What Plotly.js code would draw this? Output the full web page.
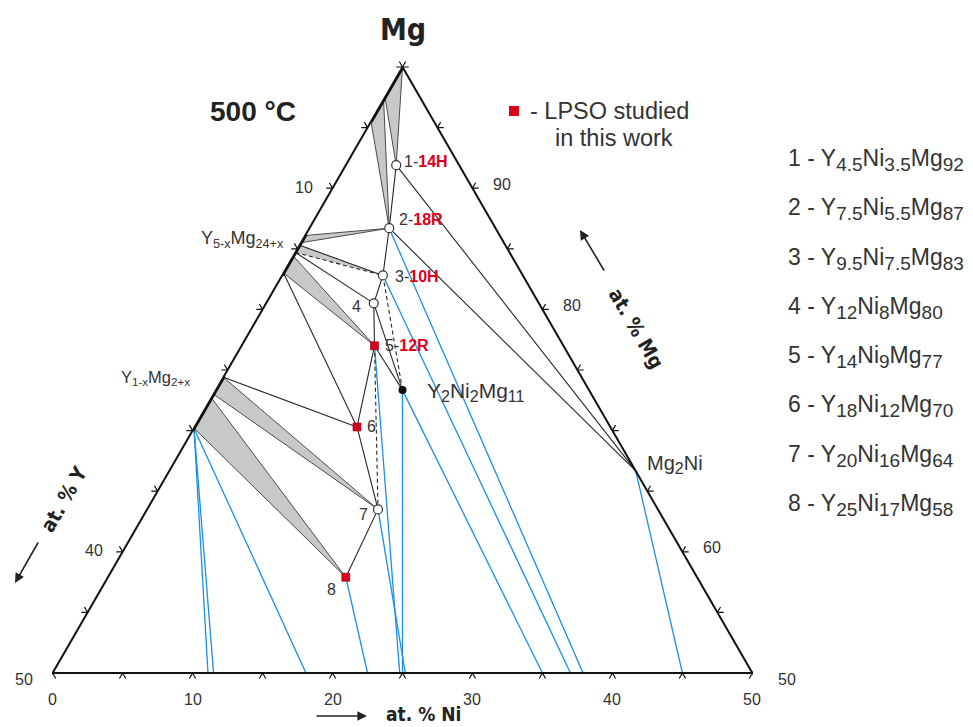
<!DOCTYPE html>
<html><head><meta charset="utf-8">
<script src="https://cdn.plot.ly/plotly-3.0.1.min.js"></script>
<style>html,body{margin:0;padding:0;background:#fff}</style>
</head><body><div id="chart" style="width:973px;height:727px"></div>
<script>
// ---------------- DATA (at.%) ----------------
// ternary Y–Ni–Mg phases 1..8 : nominal compositions (legend) and plotted positions
const phaseIds    = ['1','2','3','4','5','6','7','8'];
const nominalY    = ['4.5','7.5','9.5','12','14','18','20','25'];
const nominalNi   = ['3.5','5.5','7.5','8','9','12','16','17'];
const nominalMg   = ['92','87','83','80','77','70','64','58'];
const polytype    = ['14H','18R','10H','','12R','','',''];
const lpsoStudied = [false,false,false,false,true,true,false,true];
const posY  = [4.5, 7.6, 10.0, 11.8, 13.5, 18.1, 20.0, 25.1];
const posNi = [3.6, 5.7, 7.2, 7.7, 9.5, 11.6, 16.5, 17.0];
const posMg = [91.9, 86.7, 82.8, 80.5, 77.0, 70.3, 63.5, 57.9];

// compounds
const compoundIds = ['Y2Ni2Mg11','Mg2Ni'];
const compoundY   = [13.33, 0];
const compoundNi  = [13.33, 33.33];
const compoundMg  = [73.34, 66.67];

// Y–Mg binary phases: homogeneity range on the Y–Mg edge (Mg %)
const edgePhaseNames = ['(Mg)','Y5-xMg24+x','Y1-xMg2+x'];
const edgePhaseFrom  = [100, 86.2, 74.5];
const edgePhaseTo    = [95.5, 82.8, 70.0];

// three-phase triangles: two corners on the Y–Mg edge (Mg %) + third phase
const triMgA     = [100, 97.3, 86.1, 85.3, 84.4, 74.4, 72.7];
const triMgB     = [97.5, 95.5, 85.5, 84.7, 83.0, 73.0, 70.2];
const triPhase   = ['1','2','2','3','5','7','8'];
const triOutline = [true, true, true, false, true, true, true];

// tie lines ('E<x>' = point on Y–Mg edge with x % Mg)
const solidTies  = [['1','2'],['1','Mg2Ni'],['2','Mg2Ni'],['2','3'],['3','4'],['4','5'],['5','6'],
                    ['6','7'],['7','8'],['E85.3','3'],['E84.7','4'],['E83','6'],['E74.4','6'],
                    ['4','Y2Ni2Mg11'],['5','Y2Ni2Mg11']];
const dashedTies = [['E84.7','3'],['5','7'],['3','Y2Ni2Mg11']];

// blue tie lines running to the 50 % Mg section (Ni % at the bottom edge)
const blueFrom = ['E70.2','E70.2','E70.2','8','5','7','Y2Ni2Mg11','Y2Ni2Mg11','3','2','Mg2Ni'];
const blueToNi = [11.1, 11.5, 18.1, 22.5, 24.8, 25.2, 25.0, 35.0, 37.0, 37.9, 45.0];

// axis ticks / labels
const tickValues   = [0,5,10,15,20,25,30,35,40,45,50];
const niTickLabels = [0,10,20,30,40,50];
const yTickLabels  = [10,40,50];
const mgTickLabels = [90,80,60,50];

// ---------------- helpers ----------------
const RED = '#d9001b', BLUE = '#1a8fe3', INK = '#262626', TXT = '#333333';
const SANS = 'Liberation Sans, Arial, sans-serif';
function comp(id){ // -> [Y, Ni, Mg]
  let i = phaseIds.indexOf(id);
  if (i >= 0) return [posY[i], posNi[i], posMg[i]];
  i = compoundIds.indexOf(id);
  if (i >= 0) return [compoundY[i], compoundNi[i], compoundMg[i]];
  if (id[0] === 'E') { const m = parseFloat(id.slice(1)); return [100-m, 0, m]; }
  if (id[0] === 'B') { const n = parseFloat(id.slice(1)); return [50-n, n, 50]; }
}
function segTrace(segs, line, extra){
  const a=[], b=[], c=[];
  segs.forEach(s => { s.forEach(p => { b.push(p[0]); c.push(p[1]); a.push(p[2]); }); a.push(null); b.push(null); c.push(null); });
  return Object.assign({type:'scatterternary', mode:'lines', a, b, c, line, hoverinfo:'skip', connectgaps:false}, extra||{});
}
const traces = [];

// gray three-phase triangles
triPhase.forEach((ph, i) => {
  const pts = [comp('E'+triMgA[i]), comp('E'+triMgB[i]), comp(ph), comp('E'+triMgA[i])];
  traces.push({type:'scatterternary', mode:'lines', fill:'toself', fillcolor:'#c7c9c9',
    a: pts.map(p=>p[2]), b: pts.map(p=>p[0]), c: pts.map(p=>p[1]),
    line:{color: triOutline[i] ? '#3a3a3a' : 'rgba(0,0,0,0)', width: 0.9}, hoverinfo:'skip'});
});
traces.push(segTrace(blueFrom.map((f,i)=>[comp(f), comp('B'+blueToNi[i])]), {color:BLUE, width:1.3}));
traces.push(segTrace(solidTies.map(t=>[comp(t[0]), comp(t[1])]), {color:INK, width:1.1}));
traces.push(segTrace(dashedTies.map(t=>[comp(t[0]), comp(t[1])]), {color:INK, width:1.1, dash:'4px,3px'}));
traces.push(segTrace(edgePhaseFrom.map((f,i)=>[comp('E'+f), comp('E'+edgePhaseTo[i])]), {color:'#111', width:3.6}));

// markers
function markerTrace(ids, marker){
  const pts = ids.map(comp);
  return {type:'scatterternary', mode:'markers', a:pts.map(p=>p[2]), b:pts.map(p=>p[0]), c:pts.map(p=>p[1]),
          marker, hoverinfo:'skip', cliponaxis:false};
}
traces.push(markerTrace(phaseIds.filter((id,i)=>!lpsoStudied[i]), {symbol:'circle', size:9, color:'white', line:{color:'#333', width:1.2}}));
traces.push(markerTrace(phaseIds.filter((id,i)=>lpsoStudied[i]), {symbol:'square', size:8, color:RED, line:{color:'#8a0010', width:0.6}}));
traces.push(markerTrace(['Y2Ni2Mg11'], {symbol:'circle', size:8, color:'#111'}));

// tick carets: drawn on a hidden cartesian overlay (x = Ni + (Mg-50)/2, y = Mg-50)
const d = 0.45, tx = [], ty = [];
function addTick(pts){ pts.forEach(p => { tx.push(p[1] + (p[2]-50)/2); ty.push(p[2]-50); }); tx.push(null); ty.push(null); }
tickValues.forEach(v => {
  addTick([[50-v+d, v, 50-d],[50-v, v, 50],[50-v, v+d, 50-d]]);       // bottom edge (Mg = 50)
  addTick([[v+d, -d, 100-v],[v, 0, 100-v],[v, -d, 100-v+d]]);          // left edge (Ni = 0)
  addTick([[-d, v+d, 100-v],[0, v, 100-v],[-d, v, 100-v+d]]);          // right edge (Y = 0)
});
traces.push({type:'scatter', mode:'lines', x:tx, y:ty, xaxis:'x', yaxis:'y', cliponaxis:false,
             line:{color:'#111', width:1.2}, hoverinfo:'skip', connectgaps:false});

// ---------------- layout geometry ----------------
const ML=52, MT=67, PW=701, PH=606, PADV=10;      // triangle box; plot area padded by PADV px above/below
const TW = PH*2/Math.sqrt(3), X0 = ML + (PW - TW)/2;
function pix(p){ const [Y,Ni,Mg] = p; return [X0 + TW*(Ni + (Mg-50)/2)/50, MT + PH - PH*(Mg-50)/50]; }
const AH = PH + 2*PADV;                              // plot-area height
function paper(px,py){ return [(px-ML)/PW, (MT+PH+PADV-py)/AH]; }
const annotations = [];
function note(px, py, text, o){
  const [x,y] = paper(px,py);
  annotations.push(Object.assign({xref:'paper', yref:'paper', x, y, text, showarrow:false,
    font:{size:16, color:TXT, family:SANS}, xanchor:'center', yanchor:'middle'}, o||{}));
}
function noteAt(p, text, o){ const [px,py]=pix(p); note(px,py,text,o); }
const sub = (t, s) => `<sub><span style="font-size:${s}px">${t}</span></sub>`;

// phase labels
const labDX = [6, 8, 10, -11, 8, 8, -8, -8];
const labDY = [4, 9, -1, -3, 0, 0, -5, -12];
const labAnchor = ['left','left','left','right','left','left','right','right'];
phaseIds.forEach((id,i)=>{
  const t = polytype[i] ? `${id}-<span style="color:${RED}"><b>${polytype[i]}</b></span>` : id;
  noteAt(comp(id), t, {xanchor:labAnchor[i], xshift:labDX[i], yshift:labDY[i], font:{size:16, color:TXT, family:SANS}});
});
noteAt(comp('Y2Ni2Mg11'), 'Y'+sub('2',16)+'Ni'+sub('2',16)+'Mg'+sub('11',16), {xanchor:'left', xshift:22, yshift:-2, font:{size:21, color:TXT, family:SANS}});
noteAt(comp('Mg2Ni'), 'Mg'+sub('2',16)+'Ni', {xanchor:'left', xshift:9, yshift:6, font:{size:20, color:TXT, family:SANS}});
noteAt(comp('E85.6'), 'Y<sub>5-x</sub>Mg<sub>24+x</sub>', {xanchor:'right', xshift:-16, yshift:2, font:{size:18, color:TXT, family:SANS}});
noteAt(comp('E74.2'), 'Y<sub>1-x</sub>Mg<sub>2+x</sub>', {xanchor:'right', xshift:-30, yshift:2, font:{size:16.5, color:TXT, family:SANS}});

// tick labels
niTickLabels.forEach(v => noteAt(comp('B'+v), String(v), {yshift:-26}));
yTickLabels.forEach(v => noteAt([v,0,100-v], String(v), {xanchor:'right', xshift:-18, yshift:(v===50?-6:1)}));
mgTickLabels.forEach(v => noteAt([0,100-v,v], String(v), {xanchor:'left', xshift:(v===50?24:19), yshift:(v===50?-6:4)}));

// titles
const condensed = 'Liberation Sans Narrow, DejaVu Sans Condensed, Arial Narrow, sans-serif';
note(403, 29, '<b>Mg</b>', {font:{size:30, color:'#222', family:condensed}});
note(253, 112, '<b>500 °C</b>', {font:{size:28, color:'#222', family:SANS}});
note(423, 714, '<b>at. % Ni</b>', {font:{size:19, color:'#222', family:condensed}});
note(64, 499, '<b>at. % Y</b>', {textangle:-60, font:{size:20, color:'#222', family:condensed}});
note(636, 328, '<b>at. % Mg</b>', {textangle:60, font:{size:20, color:'#222', family:condensed}});
function arrow(hx,hy,tx,ty){
  const [x,y] = paper(hx,hy);
  annotations.push({xref:'paper', yref:'paper', x, y, ax:tx-hx, ay:ty-hy, text:'', showarrow:true,
    arrowhead:2, arrowsize:1.2, arrowwidth:1.6, arrowcolor:'#222'});
}
arrow(367,716, 315,716);
arrow(15,583, 39,541);
arrow(580,230, 605,272);

// legend
note(528, 111, '- LPSO studied', {xanchor:'left', font:{size:23.5, color:TXT, family:SANS}});
note(614, 138, 'in this work', {font:{size:23.5, color:TXT, family:SANS}});
const sq = paper(509,106), sq2 = paper(519,116);
const shapes = [{type:'rect', xref:'paper', yref:'paper', x0:sq[0], y0:sq[1], x1:sq2[0], y1:sq2[1], fillcolor:RED, line:{width:0}}];

phaseIds.forEach((id,i)=>{
  note(786, 160 + i*49.3, `${id} - Y${sub(nominalY[i],19)}Ni${sub(nominalNi[i],19)}Mg${sub(nominalMg[i],19)}`,
       {xanchor:'left', font:{size:23, color:TXT, family:SANS}});
});

const axisStyle = {showgrid:false, showticklabels:false, ticks:'', linecolor:'#111', linewidth:2, title:{text:''}};
const xPad = (X0-ML)/TW*50, yPad = PADV/PH*50;
const layout = {
  width:973, height:727,
  margin:{l:ML, r:973-ML-PW, t:MT-PADV, b:727-MT-PH-PADV, pad:0},
  paper_bgcolor:'white', plot_bgcolor:'rgba(0,0,0,0)',
  showlegend:false, hovermode:false,
  font:{family:SANS, color:TXT, size:16},
  xaxis:{visible:false, range:[-xPad, 50 + (ML+PW-X0-TW)/TW*50], domain:[0,1], fixedrange:true},
  yaxis:{visible:false, range:[-yPad, 50 + yPad], domain:[0,1], fixedrange:true},
  ternary:{sum:100, domain:{x:[0,1], y:[PADV/AH, 1 - PADV/AH]}, bgcolor:'white',
    aaxis:Object.assign({min:50}, axisStyle),
    baxis:Object.assign({min:0}, axisStyle),
    caxis:Object.assign({min:0}, axisStyle)},
  annotations, shapes
};
Plotly.newPlot('chart', traces, layout, {displayModeBar:false, staticPlot:true});
</script>
</body></html>
